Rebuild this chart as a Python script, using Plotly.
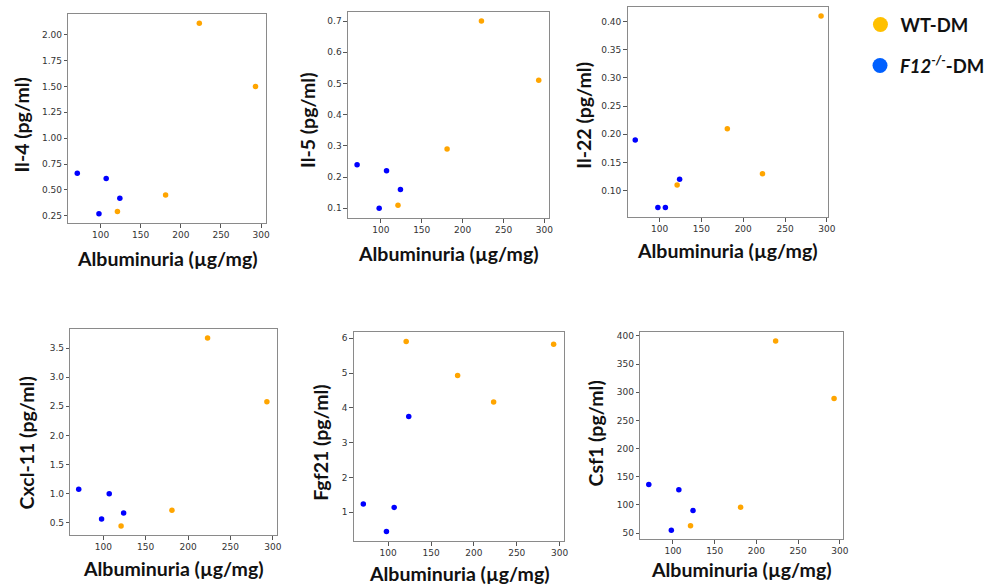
import plotly.graph_objects as go

W, H = 990, 585

# ---- data ----
alb_f12 = [71, 98, 107, 124]
alb_wt = [121, 181, 223, 293]

panel_names = ["Il-4", "Il-5", "Il-22", "Cxcl-11", "Fgf21", "Csf1"]
f12_vals = {
    "Il-4": [0.66, 0.27, 0.61, 0.42],
    "Il-5": [0.24, 0.10, 0.22, 0.16],
    "Il-22": [0.19, 0.07, 0.07, 0.12],
    "Cxcl-11": [1.08, 0.57, 1.00, 0.67],
    "Fgf21": [1.24, 0.45, 1.14, 3.75],
    "Csf1": [136, 55, 127, 90],
}
wt_vals = {
    "Il-4": [0.29, 0.45, 2.11, 1.50],
    "Il-5": [0.11, 0.29, 0.70, 0.51],
    "Il-22": [0.11, 0.21, 0.13, 0.41],
    "Cxcl-11": [0.45, 0.72, 3.67, 2.58],
    "Fgf21": [5.91, 4.93, 4.17, 5.83],
    "Csf1": [63, 96, 391, 289],
}
y_ticks = {
    "Il-4": [0.25, 0.50, 0.75, 1.00, 1.25, 1.50, 1.75, 2.00],
    "Il-5": [0.1, 0.2, 0.3, 0.4, 0.5, 0.6, 0.7],
    "Il-22": [0.10, 0.15, 0.20, 0.25, 0.30, 0.35, 0.40],
    "Cxcl-11": [0.5, 1.0, 1.5, 2.0, 2.5, 3.0, 3.5],
    "Fgf21": [1, 2, 3, 4, 5, 6],
    "Csf1": [50, 100, 150, 200, 250, 300, 350, 400],
}
y_fmt = {"Il-4": ".2f", "Il-5": ".1f", "Il-22": ".2f", "Cxcl-11": ".1f", "Fgf21": "d", "Csf1": "d"}
y_range = {
    "Il-4": [0.18, 2.20],
    "Il-5": [0.069, 0.729],
    "Il-22": [0.053, 0.427],
    "Cxcl-11": [0.294, 3.826],
    "Fgf21": [0.175, 6.18],
    "Csf1": [39.4, 407],
}
x_range = {
    "Il-4": [60, 306],
    "Il-5": [60, 305],
    "Il-22": [62, 301.5],
    "Cxcl-11": [61.2, 304.6],
    "Fgf21": [60.1, 305.3],
    "Csf1": [61, 303.5],
}
x_ticks = [100, 150, 200, 250, 300]
x_title = "Albuminuria (µg/mg)"
wt_name = "WT-DM"
f12_name = "<i>F12<sup>-/-</sup></i>-DM"

# ---- layout geometry (pixels: left, right, top, bottom of each plot box) ----
boxes = {
    "Il-4": (70, 272, 14, 223),
    "Il-5": (356, 561, 12, 218),
    "Il-22": (642, 847, 6.5, 217),
    "Cxcl-11": (72, 283, 329, 535),
    "Fgf21": (362, 577, 332, 541),
    "Csf1": (655, 862, 332, 539),
}
xtitle_pos = {"Il-4": 258, "Il-5": 253, "Il-22": 250, "Cxcl-11": 568, "Fgf21": 573, "Csf1": 569}
ytitle_pos = {"Il-4": (21, 125), "Il-5": (315, 120), "Il-22": (597, 115),
              "Cxcl-11": (27, 443), "Fgf21": (327, 443), "Csf1": (609, 433)}

C_WT = "#FFA500"
C_F12 = "#0000FF"
TITLE_FONT = dict(family="Lato", size=19.5, color="#111111", weight="bold")
TICK_FONT = dict(family="DejaVu Sans", size=9, color="#333333")

fig = go.Figure()
annotations = []

for i, name in enumerate(panel_names):
    n = "" if i == 0 else str(i + 1)
    xa, ya = "x" + n, "y" + n
    l, r, t, b = boxes[name]
    fig.add_trace(go.Scatter(x=alb_wt, y=wt_vals[name], mode="markers",
                             marker=dict(color=C_WT, size=5.5), xaxis=xa, yaxis=ya,
                             showlegend=False, name=wt_name))
    fig.add_trace(go.Scatter(x=alb_f12, y=f12_vals[name], mode="markers",
                             marker=dict(color=C_F12, size=5.5), xaxis=xa, yaxis=ya,
                             showlegend=False, name=f12_name))
    common = dict(showline=True, linecolor="#8a8a8a", linewidth=1.2, mirror=True,
                  ticks="outside", ticklen=3.5, tickcolor="#555555", tickwidth=1,
                  showgrid=False, zeroline=False, tickfont=TICK_FONT)
    fig.layout["xaxis" + n] = dict(domain=[l / W, r / W], range=x_range[name],
                                   tickvals=x_ticks, anchor=ya, **common)
    fig.layout["yaxis" + n] = dict(domain=[1 - b / H, 1 - t / H], range=y_range[name],
                                   tickvals=y_ticks[name], tickformat=y_fmt[name],
                                   anchor=xa, **common)
    annotations.append(dict(text=x_title, xref="paper", yref="paper",
                            x=(l + r) / 2 / W, y=1 - xtitle_pos[name] / H,
                            xanchor="center", yanchor="middle", showarrow=False,
                            font=TITLE_FONT))
    yx, yy = ytitle_pos[name]
    annotations.append(dict(text=f"{name} (pg/ml)", xref="paper", yref="paper",
                            x=yx / W, y=1 - yy / H, textangle=-90,
                            xanchor="center", yanchor="middle", showarrow=False,
                            font=TITLE_FONT))

# legend-only traces
fig.add_trace(go.Scatter(x=[None], y=[None], mode="markers", name=wt_name,
                         marker=dict(color="#FFC000", size=15), legend="legend"))
fig.add_trace(go.Scatter(x=[None], y=[None], mode="markers", name=f12_name,
                         marker=dict(color="#0060FF", size=15), legend="legend2"))

leg_common = dict(xanchor="left", yanchor="middle", bgcolor="rgba(0,0,0,0)",
                  borderwidth=0,
                  font=dict(family="Lato", size=18.5, color="#111111", weight="bold"),
                  itemsizing="trace")
fig.update_layout(
    width=W, height=H,
    margin=dict(l=0, r=0, t=0, b=0),
    paper_bgcolor="white", plot_bgcolor="white",
    annotations=annotations,
    legend=dict(x=880 / W, y=1 - 25 / H, **leg_common),
    legend2=dict(x=880 / W, y=1 - 66 / H, **leg_common),
)

fig.write_html("out.html", config={"displayModeBar": False},
               post_script="document.body.style.margin='0px';")
